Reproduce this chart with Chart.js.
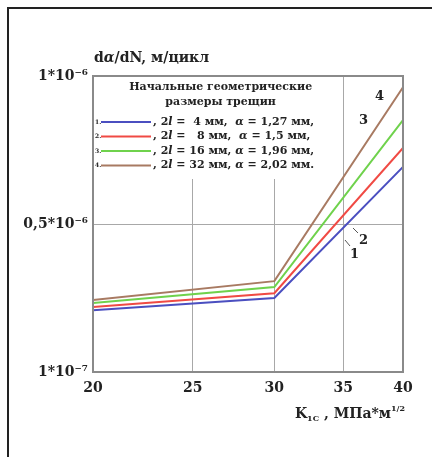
<!DOCTYPE html>
<html>
<head>
<meta charset="utf-8">
<script src="https://cdn.jsdelivr.net/npm/chart.js@4.4.1/dist/chart.umd.min.js"></script>
<style>
  html, body { margin: 0; padding: 0; background: #fff; overflow: hidden; }
  #frame { position: absolute; left: 7px; top: 7px; width: 460px; height: 470px; border: 2px solid #222; }
  #wrap { position: absolute; left: 0; top: 0; width: 432px; height: 457px; }
</style>
</head>
<body>
<div id="frame"></div>
<div id="wrap"><canvas id="chart" width="432" height="457"></canvas></div>
<script>
const kIC = [20, 30, 40];
const xTicks = [20, 25, 30, 35, 40];
const yTickValues = [0, 0.5e-6, 1e-6];
const yTickLabels = ['1*10⁻⁷', '0,5*10⁻⁶', '1*10⁻⁶'];

const crackLength = ['4', '8', '16', '32'];
const crackDepth = ['1,27', '1,5', '1,96', '2,02'];
const curveNames = ['1', '2', '3', '4'];

const rate1 = [0.209e-6, 0.250e-6, 0.693e-6];
const rate2 = [0.220e-6, 0.266e-6, 0.757e-6];
const rate3 = [0.233e-6, 0.287e-6, 0.851e-6];
const rate4 = [0.243e-6, 0.307e-6, 0.962e-6];

const colors = ['#4b4fc0', '#f04a44', '#6fd24c', '#a87a62'];
const serif = "'DejaVu Serif', serif";

const seriesData = [rate1, rate2, rate3, rate4];

function pts(arr) {
    return arr.map((v, i) => ({ x: kIC[i], y: v }));
}

// text pieces drawn one after another
function drawRuns(ctx, x, y, runs) {
    runs.forEach(r => {
        ctx.font = r.font;
        ctx.fillText(r.text, x, y + (r.dy || 0));
        x += ctx.measureText(r.text).width;
    });
    return x;
}

const extras = {
    id: 'extras',
    beforeDatasetsDraw(chart) {
        const ctx = chart.ctx;
        const a = chart.chartArea;
        const xs = chart.scales.x;
        const right35 = xs.getPixelForValue(35) - 1;
        // legend box over the grid
        ctx.save();
        ctx.fillStyle = '#fff';
        ctx.fillRect(a.left + 1, a.top + 1, right35 - a.left - 1, 102);

        ctx.fillStyle = '#222';
        ctx.textBaseline = 'middle';
        ctx.textAlign = 'center';
        ctx.font = 'bold 11px ' + serif;
        const cx = (a.left + right35) / 2 + 3;
        ctx.fillText('Начальные геометрические', cx, a.top + 11);
        ctx.fillText('размеры трещин', cx, a.top + 26);

        ctx.textAlign = 'left';
        for (let i = 0; i < 4; i++) {
            const y = a.top + 46 + i * 14.5;
            ctx.font = 'bold 6px ' + serif;
            ctx.fillText((i + 1) + '.', a.left + 2, y);
            ctx.strokeStyle = colors[i];
            ctx.lineWidth = 2;
            ctx.beginPath();
            ctx.moveTo(a.left + 8, y);
            ctx.lineTo(a.left + 58, y);
            ctx.stroke();
            const b = 'bold 11px ' + serif;
            const bi = 'bold italic 11px ' + serif;
            const pad = crackLength[i].length === 1 ? (i === 1 ? '  ' : ' ') : '';
            const gap = i < 2 ? ',  ' : ', ';
            drawRuns(ctx, a.left + 60, y, [
                { text: ', 2', font: b },
                { text: 'l', font: bi },
                { text: ' =' + pad + ' ' + crackLength[i] + ' мм' + gap, font: b },
                { text: 'α', font: bi },
                { text: ' = ' + crackDepth[i] + ' мм' + (i === 3 ? '.' : ','), font: b }
            ]);
        }
        ctx.restore();
    },
    afterDraw(chart) {
        const ctx = chart.ctx;
        const a = chart.chartArea;
        ctx.save();
        // plot border
        ctx.strokeStyle = '#8a8a8a';
        ctx.lineWidth = 2;
        ctx.strokeRect(a.left, a.top, a.right - a.left, a.bottom - a.top);

        ctx.fillStyle = '#222';
        ctx.textBaseline = 'alphabetic';
        ctx.textAlign = 'left';
        // y title
        drawRuns(ctx, a.left + 1, a.top - 14, [
            { text: 'd', font: 'bold 14px ' + serif },
            { text: 'α', font: 'bold italic 14px ' + serif },
            { text: '/dN, м/цикл', font: 'bold 14px ' + serif }
        ]);
        // x title
        const runs = [
            { text: 'K', font: 'bold 14px ' + serif },
            { text: '1C', font: 'bold 8px ' + serif, dy: 3 },
            { text: ' , МПа*м', font: 'bold 14px ' + serif },
            { text: '1/2', font: 'bold 8px ' + serif, dy: -7 }
        ];
        let w = 0;
        runs.forEach(r => { ctx.font = r.font; w += ctx.measureText(r.text).width; });
        drawRuns(ctx, a.right + 2 - w, a.bottom + 46, runs);

        // curve numbers
        ctx.font = 'bold 13px ' + serif;
        const spots = [[350, 258], [359, 244], [359, 124], [375, 100]];
        curveNames.forEach((n, i) => ctx.fillText(n, spots[i][0], spots[i][1]));
        ctx.strokeStyle = '#555';
        ctx.lineWidth = 1;
        ctx.beginPath();
        ctx.moveTo(350, 246); ctx.lineTo(345, 240);
        ctx.moveTo(358, 233); ctx.lineTo(353, 228);
        ctx.stroke();
        ctx.restore();
    }
};

const ctx = document.getElementById('chart').getContext('2d');
new Chart(ctx, {
    type: 'line',
    data: {
        datasets: seriesData.map((d, i) => ({
            label: curveNames[i],
            data: pts(d),
            borderColor: colors[i],
            borderWidth: 2,
            pointRadius: 0,
            tension: 0,
            fill: false
        }))
    },
    options: {
        responsive: false,
        animation: false,
        layout: { padding: { left: 0, top: 76, right: 29, bottom: 0 } },
        plugins: { legend: { display: false }, tooltip: { enabled: false } },
        scales: {
            x: {
                type: 'logarithmic',
                min: 20,
                max: 40,
                afterBuildTicks: s => { s.ticks = xTicks.map(v => ({ value: v })); },
                afterFit: s => { s.height = 85; },
                border: { display: false },
                grid: {
                    color: c => (c.tick && (c.tick.value === 20 || c.tick.value === 40)) ? 'rgba(0,0,0,0)' : '#a8a8a8',
                    lineWidth: 1,
                    drawTicks: false
                },
                ticks: {
                    color: '#222',
                    padding: 8,
                    maxRotation: 0,
                    font: { family: serif, size: 14, weight: 'bold' },
                    callback: v => String(v)
                }
            },
            y: {
                min: 0,
                max: 1e-6,
                afterBuildTicks: s => { s.ticks = yTickValues.map(v => ({ value: v })); },
                afterFit: s => { s.width = 93; },
                border: { display: false },
                grid: {
                    color: c => (c.tick && c.tick.value === 0.5e-6) ? '#a8a8a8' : 'rgba(0,0,0,0)',
                    lineWidth: 1,
                    drawTicks: false
                },
                ticks: {
                    color: '#222',
                    padding: 5,
                    font: { family: serif, size: 14, weight: 'bold' },
                    callback: (v, i) => yTickLabels[yTickValues.indexOf(v)]
                }
            }
        }
    },
    plugins: [extras]
});
</script>
</body>
</html>
